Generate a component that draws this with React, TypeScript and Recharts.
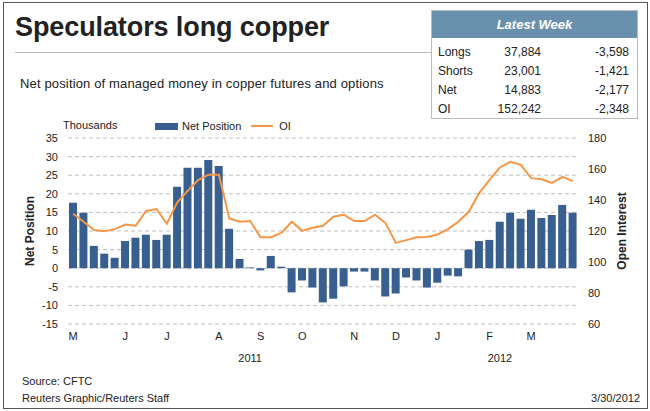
import {
  ComposedChart,
  Bar,
  Line,
  XAxis,
  YAxis,
  CartesianGrid,
  Legend,
} from "recharts";

// weekly CFTC report dates
const weeks = [
  "4/26/11", "5/3/11", "5/10/11", "5/17/11", "5/24/11", "5/31/11", "6/7/11",
  "6/14/11", "6/21/11", "6/28/11", "7/5/11", "7/12/11", "7/19/11", "7/26/11",
  "8/2/11", "8/9/11", "8/16/11", "8/23/11", "8/30/11", "9/6/11", "9/13/11",
  "9/20/11", "9/27/11", "10/4/11", "10/11/11", "10/18/11", "10/25/11", "11/1/11",
  "11/8/11", "11/15/11", "11/22/11", "11/29/11", "12/6/11", "12/13/11", "12/20/11",
  "12/27/11", "1/3/12", "1/10/12", "1/17/12", "1/24/12", "1/31/12", "2/7/12",
  "2/14/12", "2/21/12", "2/28/12", "3/6/12", "3/13/12", "3/20/12", "3/27/12",
];

// thousands of contracts
const netPosition = [
  17.6, 14.9, 6.0, 3.9, 2.8, 7.3, 8.2, 9.0, 7.6, 9.0,
  21.9, 27.0, 27.0, 29.1, 27.5, 10.6, 2.5, 0.2, -0.6, 3.3,
  0.4, -6.5, -3.3, -5.2, -9.2, -8.2, -4.9, -0.9, -0.9, -3.3,
  -7.6, -6.8, -2.5, -3.3, -5.2, -3.9, -2.0, -2.2, 5.0, 7.3,
  7.6, 12.5, 14.9, 13.3, 15.7, 13.5, 14.3, 17.0, 14.9,
];

const openInterest = [
  131.1, 126.0, 120.6, 119.9, 121.2, 124.2, 123.4, 132.9, 134.2, 124.7,
  138.5, 145.9, 152.8, 156.3, 156.3, 128.1, 126.0, 126.4, 116.0, 116.0,
  118.8, 126.0, 120.1, 122.1, 123.4, 129.2, 130.5, 126.4, 126.4, 130.5,
  125.1, 112.3, 114.1, 116.0, 116.2, 117.7, 121.2, 126.0, 132.4, 144.4,
  153.0, 161.0, 164.7, 162.7, 154.1, 153.4, 151.0, 154.9, 152.2,
];

const monthTickWeeks = [
  "4/26/11", "5/31/11", "6/28/11", "8/2/11", "8/30/11", "9/27/11",
  "11/1/11", "11/29/11", "12/27/11", "1/31/12", "2/28/12",
];
const monthLetters = ["M", "J", "J", "A", "S", "O", "N", "D", "J", "F", "M"];

const yearTickWeeks = ["8/23/11", "2/7/12"];
const yearLabels = ["2011", "2012"];

const leftTicks = [-15, -10, -5, 0, 5, 10, 15, 20, 25, 30, 35];
const rightTicks = [60, 80, 100, 120, 140, 160, 180];

const tableRows = ["Longs", "Shorts", "Net", "OI"];
const tableValues = ["37,884", "23,001", "14,883", "152,242"];
const tableChanges = ["-3,598", "-1,421", "-2,177", "-2,348"];

const FONT = '"Liberation Sans", Arial, sans-serif';
const BLUE = "#385f8f";
const ORANGE = "#f79646";

const data = weeks.map((w, i) => ({
  week: w,
  net: netPosition[i],
  oi: openInterest[i],
}));

function AxisTitle(props: any) {
  const { viewBox, value, dx } = props;
  if (!viewBox) return null;
  const cx = viewBox.x + dx;
  const cy = viewBox.y + viewBox.height / 2;
  return (
    <text
      x={cx}
      y={cy}
      transform={`rotate(-90, ${cx}, ${cy})`}
      textAnchor="middle"
      dominantBaseline="central"
      fontFamily={FONT}
      fontSize={12}
      fontWeight="bold"
      fill="#222"
    >
      {value}
    </text>
  );
}

function LegendBox() {
  return (
    <div style={{ display: "flex", alignItems: "center", fontFamily: FONT, fontSize: 11, color: "#222" }}>
      <span style={{ display: "inline-block", width: 23, height: 7, background: BLUE, marginRight: 4 }} />
      <span style={{ marginRight: 10 }}>Net Position</span>
      <span style={{ display: "inline-block", width: 22, height: 2, background: ORANGE, marginRight: 6 }} />
      <span>OI</span>
    </div>
  );
}

export default function App() {
  return (
    <div
      style={{
        position: "absolute",
        left: 0,
        top: 0,
        width: 650,
        height: 411,
        background: "#fff",
        fontFamily: FONT,
        color: "#222",
      }}
    >
      <div
        style={{
          position: "absolute",
          left: 3,
          top: 2,
          width: 643,
          height: 405,
          border: "1px solid #555",
        }}
      />
      <div
        style={{
          position: "absolute",
          left: 15,
          top: 12,
          fontSize: 27,
          fontWeight: "bold",
          letterSpacing: -0.1,
          whiteSpace: "nowrap",
        }}
      >
        Speculators long copper
      </div>
      <div
        style={{
          position: "absolute",
          left: 15,
          top: 52,
          width: 417,
          height: 1,
          background: "#bbb",
        }}
      />
      <div
        style={{
          position: "absolute",
          left: 20,
          top: 76,
          fontSize: 13,
          letterSpacing: 0.15,
          whiteSpace: "nowrap",
        }}
      >
        Net position of managed money in copper futures and options
      </div>

      <div
        style={{
          position: "absolute",
          left: 431,
          top: 10,
          width: 205,
          height: 107,
          border: "1px solid #bbb",
          background: "#fff",
        }}
      >
        <div
          style={{
            height: 27,
            background: "#6990ad",
            color: "#fff",
            fontWeight: "bold",
            fontStyle: "italic",
            fontSize: 13,
            textAlign: "center",
            lineHeight: "27px",
          }}
        >
          Latest Week
        </div>
        {tableRows.map((r, i) => (
          <div
            key={r}
            style={{
              position: "absolute",
              top: 34 + i * 19,
              left: 0,
              width: 205,
              fontSize: 12,
              height: 16,
            }}
          >
            <span style={{ position: "absolute", left: 6 }}>{r}</span>
            <span style={{ position: "absolute", right: 96 }}>{tableValues[i]}</span>
            <span style={{ position: "absolute", right: 8 }}>{tableChanges[i]}</span>
          </div>
        ))}
      </div>

      <div style={{ position: "absolute", left: 63, top: 119, fontSize: 11 }}>Thousands</div>

      <div style={{ position: "absolute", left: 0, top: 0 }}>
        <ComposedChart
          width={650}
          height={411}
          data={data}
          margin={{ top: 138, right: 0, bottom: 35, left: 0 }}
          barSize={8}
        >
          <CartesianGrid
            yAxisId="left"
            vertical={false}
            stroke="#bdbdbd"
            strokeDasharray="4 3"
          />
          <XAxis
            xAxisId="month"
            dataKey="week"
            ticks={monthTickWeeks}
            interval={0}
            tickFormatter={(v: string) => monthLetters[monthTickWeeks.indexOf(v)] ?? ""}
            axisLine={false}
            tickLine={false}
            height={22}
            tick={{ fill: "#222", fontSize: 11, fontFamily: FONT }}
          />
          <XAxis
            xAxisId="year"
            dataKey="week"
            ticks={yearTickWeeks}
            interval={0}
            tickFormatter={(v: string) => yearLabels[yearTickWeeks.indexOf(v)] ?? ""}
            axisLine={false}
            tickLine={false}
            height={30}
            tick={{ fill: "#222", fontSize: 11, fontFamily: FONT }}
          />
          <YAxis
            yAxisId="left"
            orientation="left"
            width={68}
            domain={[-15, 35]}
            ticks={leftTicks}
            interval={0}
            axisLine={false}
            tickLine={false}
            tickMargin={4}
            tick={{ fill: "#222", fontSize: 11, fontFamily: FONT }}
            label={<AxisTitle value="Net Position" dx={30} />}
          />
          <YAxis
            yAxisId="right"
            orientation="right"
            width={72}
            domain={[60, 180]}
            ticks={rightTicks}
            interval={0}
            axisLine={false}
            tickLine={false}
            tickMargin={4}
            tick={{ fill: "#222", fontSize: 11, fontFamily: FONT }}
            label={<AxisTitle value="Open Interest" dx={44} />}
          />
          <Legend
            layout="horizontal"
            verticalAlign="middle"
            align="center"
            wrapperStyle={{ position: "absolute", top: 120, left: 155, width: 200 }}
            content={() => <LegendBox />}
          />
          <Bar
            xAxisId="month"
            yAxisId="left"
            dataKey="net"
            name="Net Position"
            fill={BLUE}
            isAnimationActive={false}
          />
          <Line
            xAxisId="month"
            yAxisId="right"
            dataKey="oi"
            name="OI"
            type="linear"
            stroke={ORANGE}
            strokeWidth={2}
            dot={false}
            activeDot={false}
            isAnimationActive={false}
          />
        </ComposedChart>
      </div>

      <div style={{ position: "absolute", left: 22, top: 375, fontSize: 11 }}>Source: CFTC</div>
      <div style={{ position: "absolute", left: 22, top: 392, fontSize: 11 }}>
        Reuters Graphic/Reuters Staff
      </div>
      <div style={{ position: "absolute", right: 10, top: 392, fontSize: 11 }}>3/30/2012</div>
    </div>
  );
}
